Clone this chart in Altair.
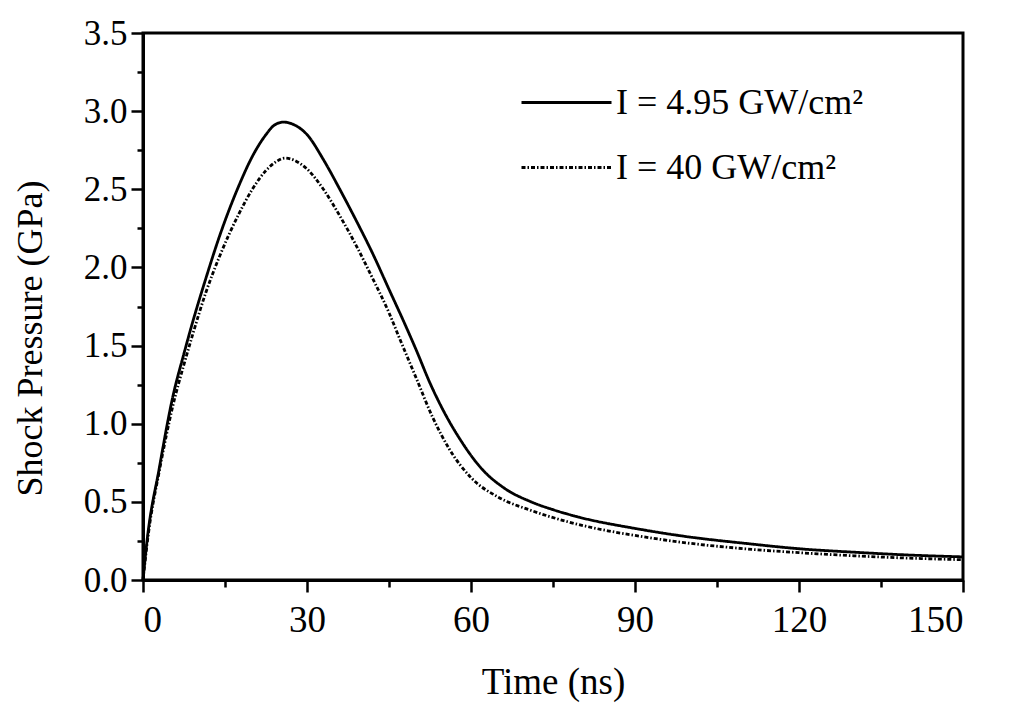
import altair as alt
import pandas as pd

# Shock pressure vs time for two laser intensities.
LOW = "I = 4.95 GW/cm²"
HIGH = "I = 40 GW/cm²"

t_low = [0, 0.7, 3, 5.5, 7.5, 9, 11.5, 14, 17.5, 20, 22.5, 24, 25.7, 27.5, 30,
         33, 36, 39, 42, 45, 48, 50, 52.5, 55, 58, 62, 66, 71, 75, 80, 90, 100,
         110, 120, 130, 140, 150]
p_low = [0.0, 0.24, 0.72, 1.18, 1.45, 1.64, 1.93, 2.20, 2.52, 2.71, 2.85, 2.91,
         2.93, 2.915, 2.85, 2.69, 2.50, 2.30, 2.09, 1.86, 1.63, 1.47, 1.26, 1.08,
         0.90, 0.71, 0.59, 0.50, 0.45, 0.40, 0.33, 0.275, 0.235, 0.20, 0.178,
         0.16, 0.148]

t_high = [0, 1, 3, 5.5, 7.5, 9, 11.5, 14, 17.5, 20, 22.5, 24.5, 26, 28, 30, 33,
          36, 39, 42, 45, 47, 50, 53, 56, 60, 65, 71, 78, 85, 90, 100, 110, 120,
          130, 140, 150]
p_high = [0.0, 0.30, 0.70, 1.12, 1.38, 1.56, 1.84, 2.07, 2.34, 2.50, 2.62,
          2.68, 2.70, 2.68, 2.63, 2.50, 2.33, 2.14, 1.93, 1.71, 1.54, 1.29, 1.04,
          0.84, 0.655, 0.53, 0.445, 0.37, 0.315, 0.285, 0.235, 0.20, 0.175,
          0.155, 0.14, 0.13]

x_ticks = [v * 15 for v in range(11)]
y_ticks = [v * 0.25 for v in range(15)]

df = pd.concat([
    pd.DataFrame({"t": t_low, "p": p_low, "series": LOW}),
    pd.DataFrame({"t": t_high, "p": p_high, "series": HIGH}),
])

FONT = "Liberation Serif"

x_axis = alt.Axis(
    values=x_ticks, title="Time (ns)", grid=False,
    labelExpr="datum.value % 30 == 0 ? datum.value : ''",
    tickSize={"condition": {"test": "datum.value % 30 == 0", "value": 12}, "value": 7},
    labelFontSize=37, titleFontSize=37,
    labelPadding=10, titlePadding=26,
)
y_axis = alt.Axis(
    values=y_ticks, title="Shock Pressure (GPa)", grid=False,
    labelExpr="(datum.value * 2) % 1 == 0 ? format(datum.value, '.1f') : ''",
    tickSize={"condition": {"test": "(datum.value * 2) % 1 == 0", "value": 12}, "value": 6},
    labelFontSize=35, titleFontSize=36,
    labelPadding=4, titlePadding=34, titleY=305,
)

chart = (
    alt.Chart(df)
    .mark_line(color="black", strokeWidth=2.8, interpolate="monotone")
    .encode(
        x=alt.X("t:Q", axis=x_axis, scale=alt.Scale(domain=[0, 150], nice=False)),
        y=alt.Y("p:Q", axis=y_axis, scale=alt.Scale(domain=[0, 3.5], nice=False)),
        strokeDash=alt.StrokeDash(
            "series:N",
            scale=alt.Scale(domain=[LOW, HIGH], range=[[1, 0], [4, 2, 1.5, 2]]),
            legend=alt.Legend(
                title=None, orient="none", legendX=377, legendY=23,
                symbolType="stroke", symbolSize=8100, symbolStrokeWidth=3,
                symbolStrokeColor="black", labelOffset=3, rowPadding=-13,
                padding=0, labelFont=FONT, labelFontSize=36, labelColor="black",
                labelLimit=400,
            ),
        ),
    )
    .properties(
        width=820, height=547,
        autosize=alt.AutoSizeParams(type="none"),
        padding={"left": 135, "top": 25, "right": 40, "bottom": 126},
    )
    .configure_view(stroke="black", strokeWidth=3)
    .configure_axis(
        domainColor="black", domainWidth=3, tickColor="black", tickWidth=2.5,
        labelFont=FONT, labelColor="black",
        titleFont=FONT, titleColor="black", titleFontWeight="normal",
    )
)

chart.save("out.html", embed_options={"renderer": "svg", "actions": False})
